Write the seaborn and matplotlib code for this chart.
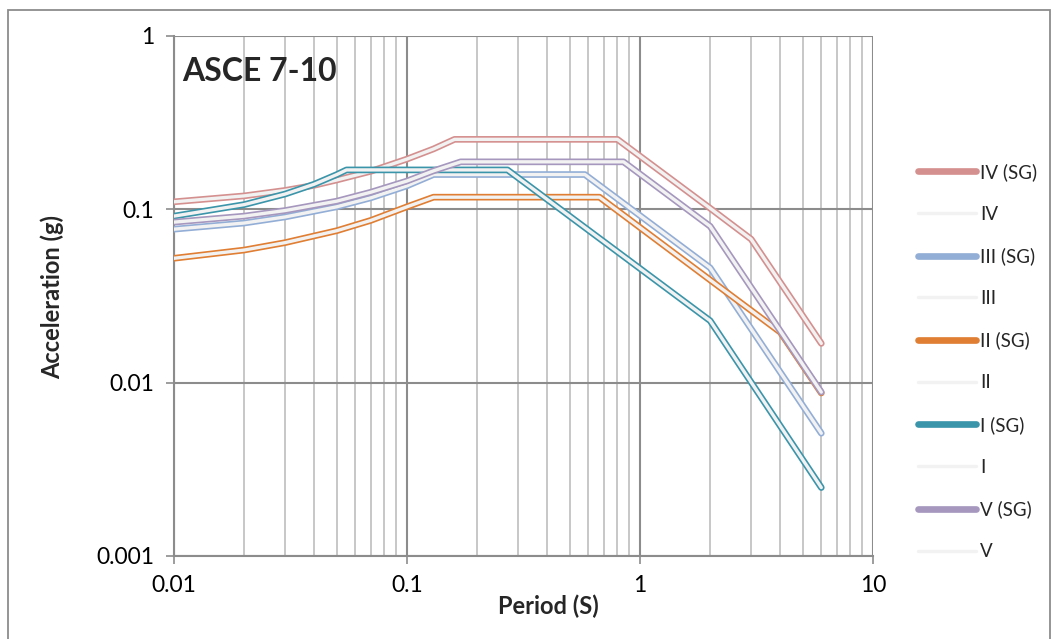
import matplotlib
matplotlib.use("Agg")
import matplotlib.pyplot as plt
import matplotlib.ticker as mticker
from matplotlib.patches import Rectangle
import seaborn as sns

# response spectra (period in s, acceleration in g)
periods_iv = [0.01, 0.02, 0.03, 0.04, 0.05, 0.07, 0.1, 0.13, 0.16, 0.8, 2, 3, 6]
accel_iv = [0.110, 0.119, 0.128, 0.137, 0.147, 0.165, 0.194, 0.222, 0.252, 0.252, 0.101, 0.067, 0.0168]

periods_iii = [0.01, 0.02, 0.03, 0.05, 0.07, 0.1, 0.13, 0.58, 2, 6]
accel_iii = [0.0765, 0.083, 0.090, 0.103, 0.116, 0.136, 0.158, 0.158, 0.0458, 0.0051]

periods_ii = [0.01, 0.02, 0.03, 0.05, 0.07, 0.1, 0.13, 0.67, 2, 4, 6]
accel_ii = [0.052, 0.058, 0.064, 0.075, 0.086, 0.103, 0.117, 0.117, 0.039, 0.0195, 0.0087]

periods_i = [0.01, 0.02, 0.03, 0.04, 0.05, 0.055, 0.27, 2, 6]
accel_i = [0.091, 0.106, 0.122, 0.139, 0.158, 0.168, 0.168, 0.0227, 0.00248]

periods_v = [0.01, 0.02, 0.03, 0.05, 0.07, 0.1, 0.13, 0.17, 0.85, 2, 6]
accel_v = [0.084, 0.091, 0.098, 0.111, 0.125, 0.145, 0.166, 0.187, 0.187, 0.0795, 0.0088]

site_classes = ["IV", "III", "II", "I", "V"]
site_periods = [periods_iv, periods_iii, periods_ii, periods_i, periods_v]
site_accels = [accel_iv, accel_iii, accel_ii, accel_i, accel_v]
site_colors = ["#D4908F", "#93AED6", "#E07E33", "#3B95AA", "#A597BE"]

x_ticks = [0.01, 0.1, 1, 10]
x_tick_labels = ["0.01", "0.1", "1", "10"]
y_ticks = [0.001, 0.01, 0.1, 1]
y_tick_labels = ["0.001", "0.01", "0.1", "1"]

sns.set_style("white")
plt.rcParams["font.family"] = ["Lato", "DejaVu Sans"]

fig = plt.figure(figsize=(10.56, 6.39), dpi=100)
ax = fig.add_axes([174 / 1056, 1 - 556 / 639, 699 / 1056, 520.5 / 639])

for name, per, acc, col in zip(site_classes, site_periods, site_accels, site_colors):
    sns.lineplot(x=per, y=acc, ax=ax, color=col, linewidth=4.8, sort=False,
                 estimator=None, label=f"{name} (SG)",
                 solid_capstyle="round", solid_joinstyle="round", zorder=3)
    sns.lineplot(x=per, y=acc, ax=ax, color="#F2F2F2", linewidth=2.4, sort=False,
                 estimator=None, label=name,
                 solid_capstyle="round", solid_joinstyle="round", zorder=3)

ax.set_xscale("log")
ax.set_yscale("log")
ax.set_xlim(0.01, 10)
ax.set_ylim(0.001, 1)

ax.xaxis.set_major_locator(mticker.FixedLocator(x_ticks))
ax.xaxis.set_major_formatter(mticker.FixedFormatter(x_tick_labels))
ax.yaxis.set_major_locator(mticker.FixedLocator(y_ticks))
ax.yaxis.set_major_formatter(mticker.FixedFormatter(y_tick_labels))
ax.xaxis.set_minor_locator(mticker.LogLocator(base=10, subs=range(2, 10)))
ax.xaxis.set_minor_formatter(mticker.NullFormatter())
ax.yaxis.set_minor_locator(mticker.NullLocator())

ax.grid(which="major", axis="both", color="#8c8c8c", linewidth=1.5, zorder=1)
ax.grid(which="minor", axis="x", color="#bdbdbd", linewidth=1.2, zorder=1)
ax.set_axisbelow(True)

ax.tick_params(axis="both", which="major", direction="out", length=6, width=1.2,
               color="#8c8c8c", labelsize=16.5, labelcolor="black", pad=8,
               left=True, bottom=True)
ax.tick_params(axis="x", which="minor", length=0)

for side in ["left", "bottom"]:
    ax.spines[side].set_color("#8c8c8c")
    ax.spines[side].set_linewidth(1.5)
for side in ["top", "right"]:
    ax.spines[side].set_visible(False)

ax.set_xlabel("")
ax.set_ylabel("")
fig.text(548 / 1056, 1 - 606 / 639, "Period (S)", ha="center", va="center",
         fontsize=17, fontweight="bold")
fig.text(52 / 1056, 1 - 297 / 639, "Acceleration (g)", ha="center", va="center",
         rotation=90, fontsize=17, fontweight="bold")

ax.text(0.012, 0.958, "ASCE 7-10", transform=ax.transAxes, ha="left", va="top",
        fontsize=23, fontweight="bold", zorder=5)

ax.legend(loc="center left", bbox_to_anchor=(918 / 1056, 1 - 361.5 / 639),
          bbox_transform=fig.transFigure, frameon=False, fontsize=13.5,
          handlelength=3.1, handletextpad=0.2, labelspacing=1.32,
          borderpad=0, borderaxespad=0)

fig.add_artist(Rectangle((8 / 1056, -0.02), 1042 / 1056, 1.02 - 10 / 639,
                         transform=fig.transFigure, fill=False,
                         edgecolor="#8c8c8c", linewidth=1.3))

fig.savefig("out.png", dpi=100)
